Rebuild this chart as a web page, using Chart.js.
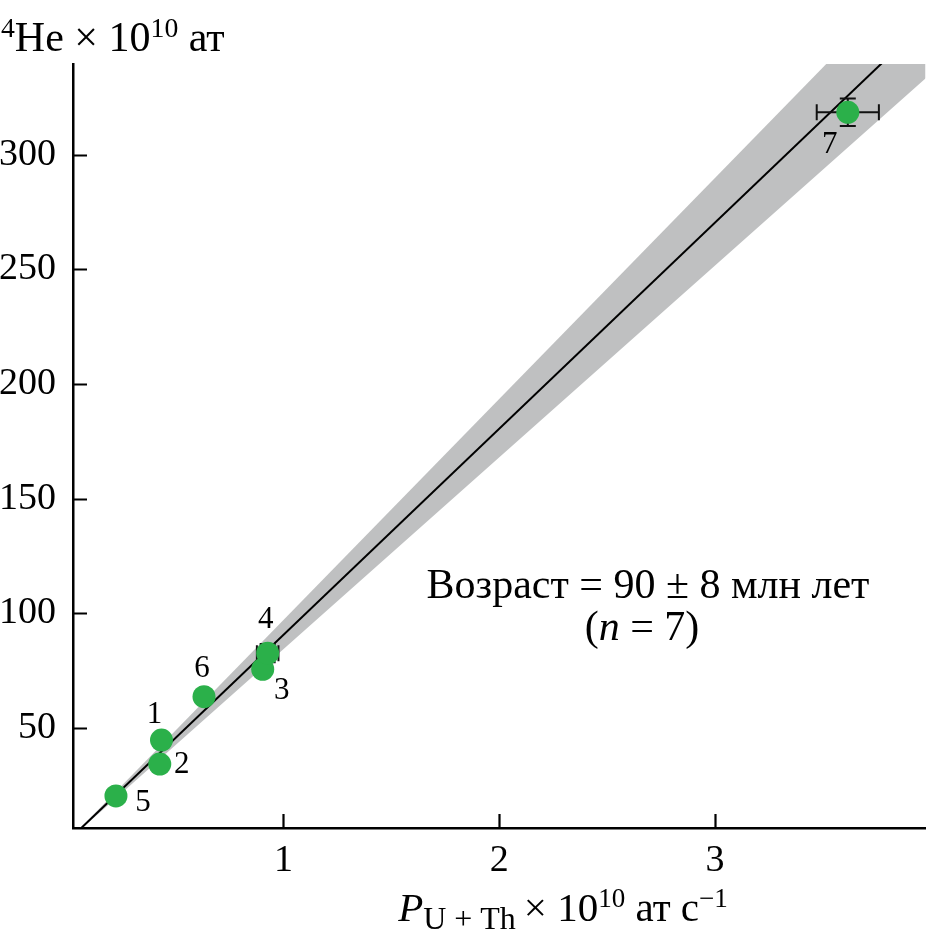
<!DOCTYPE html>
<html>
<head>
<meta charset="utf-8">
<title>He age plot</title>
<script src="https://cdn.jsdelivr.net/npm/chart.js@4.4.1/dist/chart.umd.min.js"></script>
<style>
    html, body { margin: 0; padding: 0; background: #fff; }
    #wrap { position: relative; width: 937px; height: 944px; }
</style>
</head>
<body>
<div id="wrap"><canvas id="heChart" width="937" height="944"></canvas></div>
<script>
// Sample data: P(U+Th) x 10^10 at/s vs 4He x 10^10 at
const sampleLabels = ['1', '2', '3', '4', '5', '6', '7'];
const prodRate = [0.435, 0.427, 0.904, 0.927, 0.224, 0.632, 3.615];
const heliumAmount = [44.6, 34.1, 75.5, 82.5, 20.2, 63.5, 318.6];
const prodRateErr = [0, 0, 0, 0.05, 0, 0, 0.144];
const heliumErr = [0, 0, 0, 4, 0, 0, 6];

// Isochron line (90 Ma) and its uncertainty envelope
const fitX = [0, 4];
const fitY = [0.5, 360.5];
const bandUpperY = [0.5, 386.5];
const bandLowerY = [0.5, 335.5];

// Axis ticks
const xTicks = [1, 2, 3];
const yTicks = [50, 100, 150, 200, 250, 300];

// Label offsets (px) of sample numbers from their points
const labelOffsets = [[-7, -25], [22, 1], [19, 22], [-2, -33], [27, 7], [-2, -28], [-18, 33]];

const SERIF = '"Liberation Serif", "Times New Roman", serif';
const GREEN = '#2bb04a';
const BAND = '#bfc0c1';

function toPoints(xs, ys) {
    return xs.map((x, i) => ({ x: x, y: ys[i] }));
}

/**
 * Draw text made of parts (normal, italic, super/subscript)
 */
function drawRich(ctx, parts, x, y, size, align) {
    const measured = parts.map(p => {
        const s = size * (p.scale || 1);
        const font = (p.italic ? 'italic ' : '') + s + 'px ' + SERIF;
        ctx.font = font;
        return { text: p.t, font: font, w: ctx.measureText(p.t).width, dy: (p.dy || 0) * size };
    });
    const total = measured.reduce((a, m) => a + m.w, 0);
    let cx = align === 'center' ? x - total / 2 : x;
    ctx.save();
    ctx.fillStyle = '#000';
    ctx.textAlign = 'left';
    ctx.textBaseline = 'alphabetic';
    measured.forEach(m => {
        ctx.font = m.font;
        ctx.fillText(m.text, cx, y + m.dy);
        cx += m.w;
    });
    ctx.restore();
}

// Error bars drawn just under the points
const errorBarPlugin = {
    id: 'errorBars',
    beforeDatasetDraw(chart, args) {
        if (args.index !== 3) return;
        const ctx = chart.ctx;
        const xs = chart.scales.x, ys = chart.scales.y;
        const cap = 8;
        ctx.save();
        ctx.strokeStyle = '#111';
        ctx.lineWidth = 2;
        prodRate.forEach((v, i) => {
            const px = xs.getPixelForValue(v);
            const py = ys.getPixelForValue(heliumAmount[i]);
            if (prodRateErr[i] > 0) {
                const l = xs.getPixelForValue(v - prodRateErr[i]);
                const r = xs.getPixelForValue(v + prodRateErr[i]);
                ctx.beginPath();
                ctx.moveTo(l, py); ctx.lineTo(r, py);
                ctx.moveTo(l, py - cap); ctx.lineTo(l, py + cap);
                ctx.moveTo(r, py - cap); ctx.lineTo(r, py + cap);
                ctx.stroke();
            }
            if (heliumErr[i] > 0) {
                const t = ys.getPixelForValue(heliumAmount[i] + heliumErr[i]);
                const b = ys.getPixelForValue(heliumAmount[i] - heliumErr[i]);
                ctx.beginPath();
                ctx.moveTo(px, t); ctx.lineTo(px, b);
                ctx.moveTo(px - cap, t); ctx.lineTo(px + cap, t);
                ctx.moveTo(px - cap, b); ctx.lineTo(px + cap, b);
                ctx.stroke();
            }
        });
        ctx.restore();
    }
};

// Inward tick marks, sample numbers, titles and age note
const decorPlugin = {
    id: 'decor',
    afterDraw(chart) {
        const ctx = chart.ctx;
        const area = chart.chartArea;
        const xs = chart.scales.x, ys = chart.scales.y;
        const tickLen = 14;

        ctx.save();
        ctx.strokeStyle = '#000';
        ctx.lineWidth = 2.2;
        ctx.beginPath();
        yTicks.forEach(v => {
            const py = Math.round(ys.getPixelForValue(v)) + 0.5;
            ctx.moveTo(area.left, py);
            ctx.lineTo(area.left + tickLen, py);
        });
        xTicks.forEach(v => {
            const px = Math.round(xs.getPixelForValue(v)) + 0.5;
            ctx.moveTo(px, area.bottom);
            ctx.lineTo(px, area.bottom - tickLen);
        });
        ctx.stroke();

        // sample numbers
        ctx.fillStyle = '#000';
        ctx.font = '31px ' + SERIF;
        ctx.textAlign = 'center';
        ctx.textBaseline = 'middle';
        sampleLabels.forEach((lab, i) => {
            const px = xs.getPixelForValue(prodRate[i]) + labelOffsets[i][0];
            const py = ys.getPixelForValue(heliumAmount[i]) + labelOffsets[i][1];
            ctx.fillText(lab, px, py);
        });
        ctx.restore();

        // y axis title
        drawRich(ctx, [
            { t: '4', scale: 0.66, dy: -0.34 },
            { t: 'He × 10' },
            { t: '10', scale: 0.66, dy: -0.34 },
            { t: ' ат' }
        ], 1, 51, 42, 'left');

        // x axis title
        drawRich(ctx, [
            { t: 'P', italic: true },
            { t: 'U + Th ', scale: 0.78, dy: 0.2 },
            { t: '× 10' },
            { t: '10', scale: 0.66, dy: -0.34 },
            { t: ' ат с' },
            { t: '−1', scale: 0.66, dy: -0.34 }
        ], 563, 921, 41, 'center');

        // age annotation
        drawRich(ctx, [{ t: 'Возраст = 90 ± 8 млн лет' }], 648, 598, 42, 'center');
        drawRich(ctx, [{ t: '(' }, { t: 'n', italic: true }, { t: ' = 7)' }], 642, 640, 42, 'center');
    }
};

const tickFont = { family: SERIF, size: 38 };

const heChart = new Chart(document.getElementById('heChart'), {
    type: 'scatter',
    data: {
        datasets: [{
            label: 'upper',
            data: toPoints(fitX, bandUpperY),
            showLine: true,
            borderWidth: 0,
            pointRadius: 0,
            backgroundColor: BAND,
            fill: '+1',
            order: 4
        }, {
            label: 'lower',
            data: toPoints(fitX, bandLowerY),
            showLine: true,
            borderWidth: 0,
            pointRadius: 0,
            fill: false,
            order: 3
        }, {
            label: 'isochron',
            data: toPoints(fitX, fitY),
            showLine: true,
            borderColor: '#000',
            borderWidth: 2,
            pointRadius: 0,
            fill: false,
            order: 2
        }, {
            label: 'samples',
            data: toPoints(prodRate, heliumAmount),
            pointRadius: 11.5,
            pointHoverRadius: 11.5,
            backgroundColor: GREEN,
            borderWidth: 0,
            order: 1
        }]
    },
    options: {
        responsive: false,
        animation: false,
        devicePixelRatio: 1,
        layout: { padding: { top: 64, right: 9, left: 0, bottom: 0 } },
        plugins: {
            legend: { display: false },
            tooltip: { enabled: false }
        },
        scales: {
            x: {
                type: 'linear',
                min: 0.025,
                max: 3.975,
                grid: { display: false, drawTicks: false },
                border: { display: true, color: '#000', width: 2.5 },
                ticks: { color: '#000', font: tickFont, padding: 10, maxRotation: 0 },
                afterBuildTicks: s => { s.ticks = xTicks.map(v => ({ value: v })); },
                afterFit: s => { s.height = 116; }
            },
            y: {
                type: 'linear',
                min: 6.2,
                max: 339.7,
                grid: { display: false, drawTicks: false },
                border: { display: true, color: '#000', width: 2.5 },
                ticks: { color: '#000', font: tickFont, padding: 17 },
                afterBuildTicks: s => { s.ticks = yTicks.map(v => ({ value: v })); },
                afterFit: s => { s.width = 73; }
            }
        }
    },
    plugins: [errorBarPlugin, decorPlugin]
});
</script>
</body>
</html>
